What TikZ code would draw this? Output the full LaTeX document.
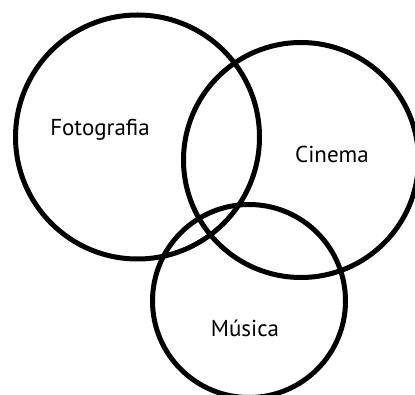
\documentclass[tikz,border=0pt]{standalone}
\usepackage{fontspec}
\setmainfont{PT Sans}
\begin{document}
\begin{tikzpicture}[x=1pt,y=-1pt,
  ring/.style={circle,draw=black,line width=5pt,inner sep=0pt},
  lab/.style={font=\fontsize{23}{26}\selectfont,inner sep=0pt}]
\useasboundingbox (0,0) rectangle (415,395);
\node[ring,minimum size=244pt] (foto) at (137.5,137) {};
\node[ring,minimum size=235pt] (cine) at (301,160) {};
\node[ring,minimum size=193pt] (musi) at (249,301) {};
\node[lab] (tfoto) at (100,130) {Fotografia};
\node[lab] (tcine) at (332,154) {Cinema};
\node[lab] (tmusi) at (245,328) {Música};
\end{tikzpicture}
\end{document}
